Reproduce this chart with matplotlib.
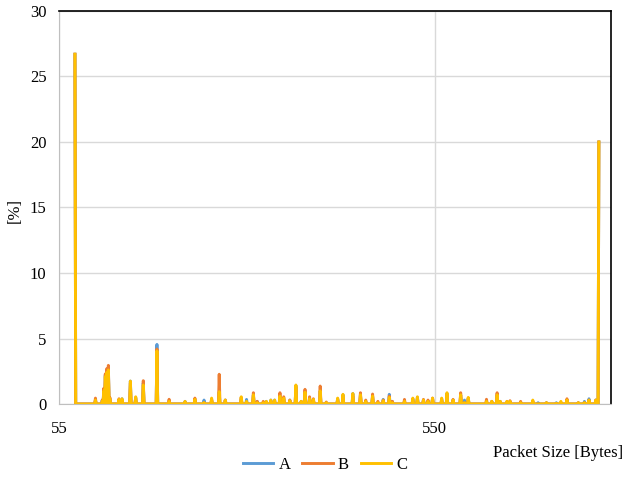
import numpy as np
import matplotlib
matplotlib.use("Agg")
import matplotlib.pyplot as plt

plt.rcParams['font.family'] = ['Liberation Serif', 'DejaVu Serif']

# packet sizes (bytes) where a non-zero share was observed
sizes = [76, 103, 112, 114, 116, 118, 120, 122, 134, 138, 149, 156, 166, 184, 200, 221, 234, 246,
         256, 266, 274, 295, 302, 311, 316, 324, 328, 334, 339, 346, 351, 359,
         367, 374, 379, 385, 390, 399, 407, 422, 429, 442, 452, 459, 468, 475,
         482, 490, 494, 510, 521, 527, 535, 541, 547, 559, 566, 574, 584, 589,
         594, 618, 625, 632, 636, 645, 649, 663, 679, 686, 697, 710, 716, 724,
         739, 747, 753, 762, 766]
a_vals = [26.7, 0.3, 0.3, 1.1, 2.2, 2.6, 2.8, 0.4, 0.3, 0.4, 1.75, 0.5, 1.6, 4.55, 0.2, 0.2, 0.3, 0.3,
          0.3, 0.9, 0.3, 0.4, 0.35, 0.7, 0.2, 0.1, 0.2, 0.3, 0.3, 0.6, 0.4, 0.3,
          1.4, 0.2, 0.9, 0.45, 0.3, 1.0, 0.1, 0.4, 0.7, 0.8, 0.7, 0.2, 0.6, 0.1,
          0.35, 0.74, 0.2, 0.2, 0.4, 0.5, 0.3, 0.2, 0.4, 0.4, 0.8, 0.3, 0.7, 0.3,
          0.4, 0.2, 0.2, 0.7, 0.2, 0.1, 0.2, 0.1, 0.2, 0.1, 0.1, 0.1, 0.1, 0.3,
          0.1, 0.2, 0.4, 0.3, 20.0]
b_vals = [26.7, 0.45, 0.3, 1.2, 2.3, 2.7, 2.95, 0.5, 0.4, 0.3, 1.6, 0.45, 1.78, 4.2, 0.36, 0.15, 0.45, 0.1,
          0.35, 2.27, 0.3, 0.5, 0.1, 0.86, 0.2, 0.2, 0.1, 0.2, 0.1, 0.86, 0.55, 0.3,
          1.3, 0.2, 1.12, 0.55, 0.4, 1.37, 0.15, 0.35, 0.5, 0.6, 0.86, 0.3, 0.76, 0.2,
          0.3, 0.6, 0.2, 0.35, 0.3, 0.4, 0.35, 0.3, 0.45, 0.3, 0.7, 0.35, 0.86, 0.1,
          0.45, 0.36, 0.2, 0.86, 0.2, 0.2, 0.25, 0.2, 0.2, 0.0, 0.1, 0.0, 0.1, 0.4,
          0.1, 0.1, 0.3, 0.3, 20.0]
c_vals = [26.7, 0.3, 0.2, 1.0, 2.1, 2.4, 2.6, 0.4, 0.35, 0.4, 1.75, 0.55, 1.45, 4.05, 0.2, 0.2, 0.35, 0.1,
          0.45, 0.94, 0.3, 0.55, 0.2, 0.7, 0.1, 0.1, 0.2, 0.3, 0.3, 0.6, 0.45, 0.25,
          1.45, 0.2, 0.9, 0.4, 0.35, 1.0, 0.1, 0.45, 0.74, 0.8, 0.7, 0.2, 0.6, 0.1,
          0.25, 0.5, 0.1, 0.2, 0.45, 0.55, 0.3, 0.2, 0.45, 0.45, 0.86, 0.3, 0.7, 0.1,
          0.5, 0.2, 0.2, 0.7, 0.2, 0.2, 0.2, 0.1, 0.3, 0.0, 0.1, 0.05, 0.2, 0.3,
          0.1, 0.1, 0.3, 0.3, 20.0]
series_names = ['A', 'B', 'C']
series_colors = ['#5B9BD5', '#ED7D31', '#FFC000']

# every byte size between first and last observation, zero where nothing seen
x = np.arange(sizes[0], sizes[-1] + 1)
idx = np.array(sizes) - sizes[0]

fig = plt.figure(figsize=(6.25, 4.78), dpi=100)
ax = fig.add_axes([0.0944, 0.1548, 0.8832, 0.8222])

for name, vals, col in zip(series_names, [a_vals, b_vals, c_vals], series_colors):
    y = np.zeros(len(x))
    y[idx] = vals
    ax.plot(x, y, color=col, lw=2.1, label=name)

ax.set_xlim(55, 782)
ax.set_ylim(0, 30)
ax.set_xticks([55, 550])
ax.set_yticks(range(0, 31, 5))
ax.grid(True, color='#D9D9D9', lw=1)
ax.set_axisbelow(True)
ax.tick_params(length=0, labelsize=12, pad=9)
ax.tick_params(axis='x', pad=12)
for s in ['left', 'bottom']:
    ax.spines[s].set_color('#BFBFBF')
for s in ['top', 'right']:
    ax.spines[s].set_color('#000000')
ax.spines['top'].set_linewidth(1.2)
ax.spines['right'].set_linewidth(1.2)

fig.text(0.024, 0.56, '[%]', rotation=90, ha='center', va='center', fontsize=12)
fig.text(0.997, 0.052, 'Packet Size [Bytes]', ha='right', va='center', fontsize=12)
fig.legend(loc='center', bbox_to_anchor=(0.52, 0.027), ncol=3, frameon=False,
           fontsize=12, handlelength=1.85, columnspacing=0.7, handletextpad=0.3)

fig.savefig('out.png', dpi=100)
